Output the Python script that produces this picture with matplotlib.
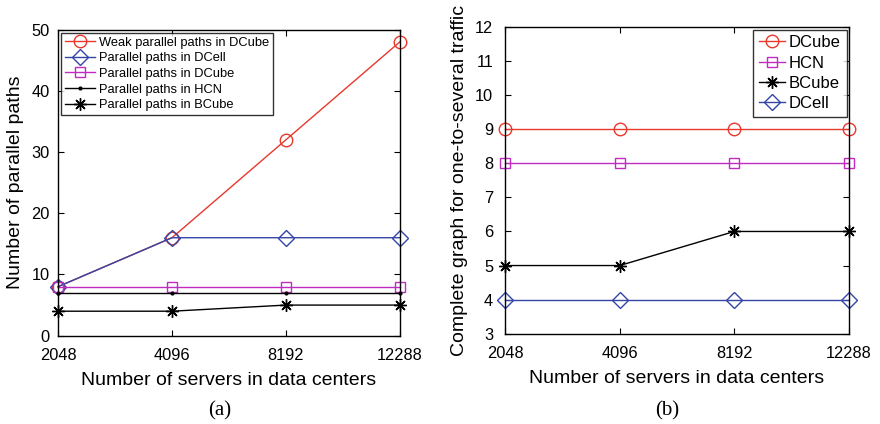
import matplotlib
matplotlib.use("Agg")
import matplotlib.pyplot as plt

plt.rcParams['font.family'] = ['Liberation Sans', 'DejaVu Sans']

servers = ["2048", "4096", "8192", "12288"]

# (a)
weak_dcube = [8, 16, 32, 48]
dcell_a = [8, 16, 16, 16]
dcube_a = [8, 8, 8, 8]
hcn_a = [7, 7, 7, 7]
bcube_a = [4, 4, 5, 5]

# (b)
dcube_b = [9, 9, 9, 9]
hcn_b = [8, 8, 8, 8]
bcube_b = [5, 5, 6, 6]
dcell_b = [4, 4, 4, 4]

RED = '#e8382c'
BLUE = '#3346a8'
MAG = '#c02cc0'
BLK = '#000000'
STAR = (8, 2, 0)

fig = plt.figure(figsize=(8.8, 4.24), dpi=100)
W, H = 880, 424

def axpos(l, r, t, b):
    return [l / W, 1 - b / H, (r - l) / W, (b - t) / H]

ax1 = fig.add_axes(axpos(58, 400, 29.5, 335.7))
ax2 = fig.add_axes(axpos(505, 849, 27, 333.7))

x = list(range(len(servers)))
lw = 1.0
ms = 9

ax1.plot(x, weak_dcube, color=RED, marker='o', mfc='none', ms=ms, lw=lw, mew=1.0, label='Weak parallel paths in DCube')
ax1.plot(x, dcell_a, color=BLUE, marker='D', mfc='none', ms=ms * 0.85, lw=lw, mew=1.0, label='Parallel paths in DCell')
ax1.plot(x, dcube_a, color=MAG, marker='s', mfc='none', ms=ms * 0.85, lw=lw, mew=1.0, label='Parallel paths in DCube')
ax1.plot(x, hcn_a, color=BLK, marker='.', ms=4, lw=lw, label='Parallel paths in HCN')
ax1.plot(x, bcube_a, color=BLK, marker=STAR, ms=ms, lw=lw, mew=1.0, label='Parallel paths in BCube')

ax1.set_xlim(0, 3)
ax1.set_ylim(0, 50)
ax1.set_yticks([0, 10, 20, 30, 40, 50])
ax1.set_xticks(x)
ax1.set_xticklabels(servers)
ax1.set_xlabel('Number of servers in data centers', fontsize=14, labelpad=6)
ax1.set_ylabel('Number of parallel paths', fontsize=14, labelpad=5)
leg1 = ax1.legend(loc='upper left', fontsize=9.3, frameon=True, fancybox=False,
                  edgecolor='black', borderaxespad=0.25, handlelength=2.3,
                  labelspacing=0.28, borderpad=0.3, handletextpad=0.3)
leg1.get_frame().set_linewidth(1.0)

ax2.plot(x, dcube_b, color=RED, marker='o', mfc='none', ms=ms, lw=lw, mew=1.0, label='DCube')
ax2.plot(x, hcn_b, color=MAG, marker='s', mfc='none', ms=ms * 0.85, lw=lw, mew=1.0, label='HCN')
ax2.plot(x, bcube_b, color=BLK, marker=STAR, ms=ms, lw=lw, mew=1.0, label='BCube')
ax2.plot(x, dcell_b, color=BLUE, marker='D', mfc='none', ms=ms * 0.85, lw=lw, mew=1.0, label='DCell')
ax2.set_xlim(0, 3)
ax2.set_ylim(3, 12)
ax2.set_yticks(range(3, 13))
ax2.set_xticks(x)
ax2.set_xticklabels(servers)
ax2.set_xlabel('Number of servers in data centers', fontsize=14, labelpad=6)
ax2.set_ylabel('Complete graph for one-to-several traffic', fontsize=14, labelpad=5)
leg2 = ax2.legend(loc='upper right', fontsize=12, frameon=True, fancybox=False,
                  edgecolor='black', borderaxespad=0.15, handlelength=1.6,
                  labelspacing=0.32, borderpad=0.35, handletextpad=0.2)
leg2.get_frame().set_linewidth(1.0)

for ax in (ax1, ax2):
    ax.tick_params(direction='in', top=True, right=True, labelsize=11.8, length=4, width=0.8)
    ax.tick_params(axis='x', pad=9)
    for s in ax.spines.values():
        s.set_linewidth(1.0)
    for ln in ax.get_lines():
        ln.set_clip_on(False)
ax1.tick_params(axis='y', pad=6)
ax2.tick_params(axis='y', pad=8.5)

fig.text(220 / W, 1 - 411 / H, '(a)', fontsize=15, family=['Liberation Serif'], ha='center', va='center')
fig.text(667 / W, 1 - 411 / H, '(b)', fontsize=15, family=['Liberation Serif'], ha='center', va='center')

fig.savefig('out.png', dpi=100)
